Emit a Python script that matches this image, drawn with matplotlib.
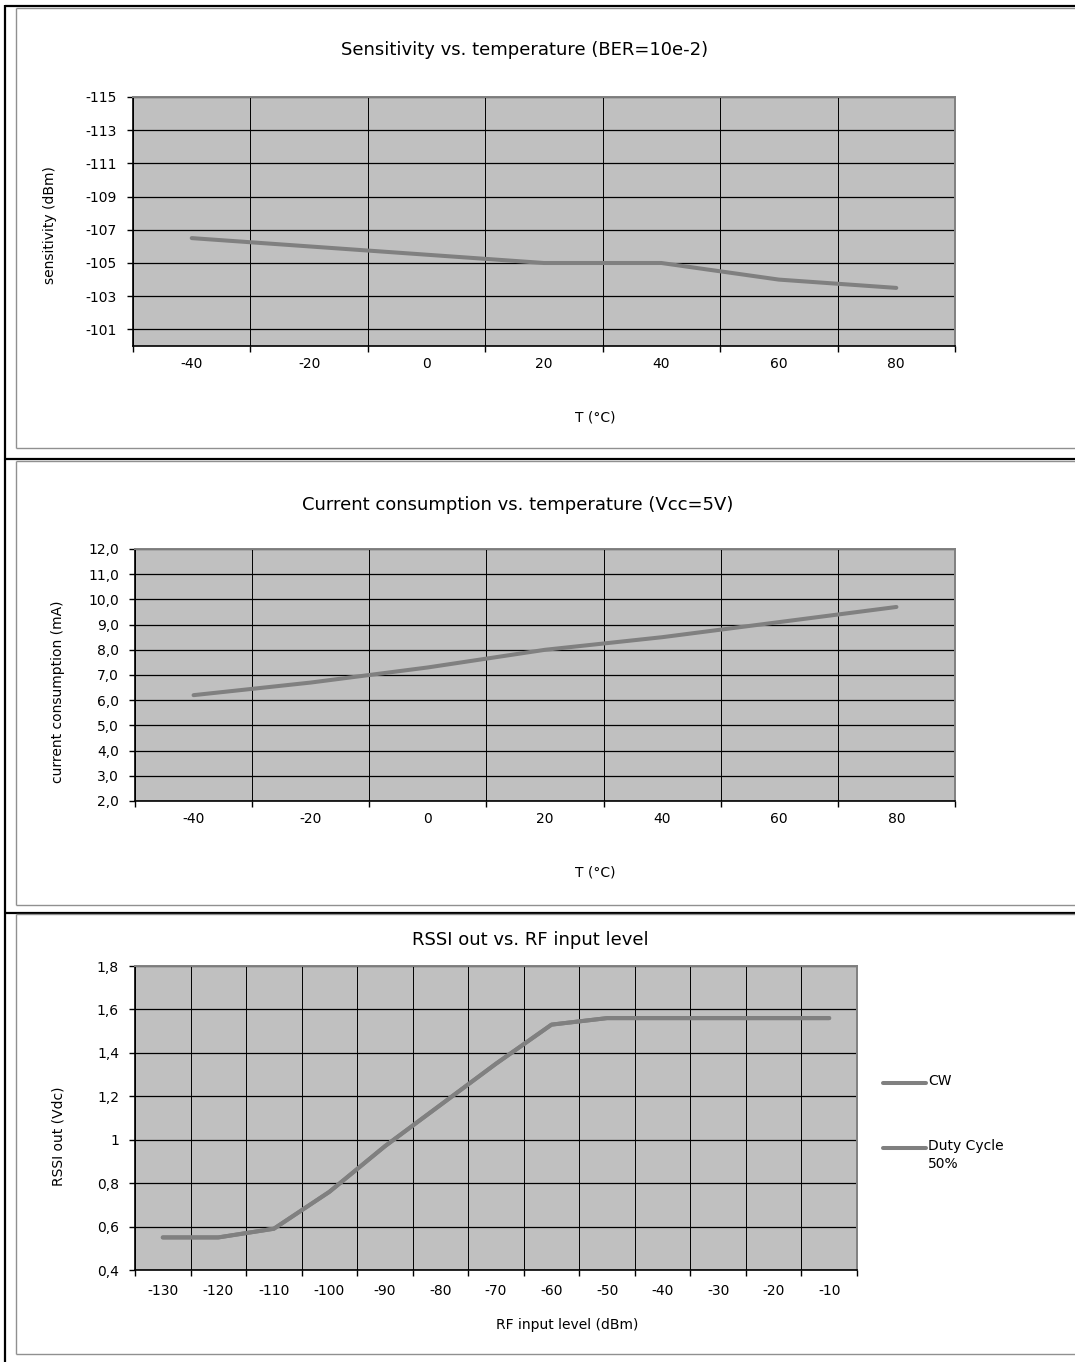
import matplotlib
matplotlib.use("Agg")
import matplotlib.pyplot as plt
from matplotlib.lines import Line2D
import numpy as np

plt.rcParams['font.family'] = ['DejaVu Sans']

W, H = 1075, 1362

# ---------------- data ----------------
temps = ["-40", "-20", "0", "20", "40", "60", "80"]
sensitivity = [-106.5, -106.0, -105.5, -105.0, -105.0, -104.0, -103.5]
sens_yticks = [-115, -113, -111, -109, -107, -105, -103, -101]

current = [6.2, 6.7, 7.3, 8.0, 8.5, 9.1, 9.7]
cur_yticks = [2.0, 3.0, 4.0, 5.0, 6.0, 7.0, 8.0, 9.0, 10.0, 11.0, 12.0]
cur_ylabels = ["2,0", "3,0", "4,0", "5,0", "6,0", "7,0", "8,0", "9,0", "10,0", "11,0", "12,0"]

rf_levels = ["-130", "-120", "-110", "-100", "-90", "-80", "-70", "-60",
             "-50", "-40", "-30", "-20", "-10"]
rssi_cw = [0.55, 0.55, 0.59, 0.76, 0.97, 1.16, 1.35, 1.53, 1.56, 1.56, 1.56, 1.56, 1.56]
rssi_dc50 = [0.55, 0.55, 0.59, 0.76, 0.97, 1.16, 1.35, 1.53, 1.56, 1.56, 1.56, 1.56, 1.56]
rssi_yticks = [0.4, 0.6, 0.8, 1.0, 1.2, 1.4, 1.6, 1.8]
rssi_ylabels = ["0,4", "0,6", "0,8", "1", "1,2", "1,4", "1,6", "1,8"]
series_names = ["CW", "Duty Cycle\n50%"]

titles = ["Sensitivity vs. temperature (BER=10e-2)",
          "Current consumption vs. temperature (Vcc=5V)",
          "RSSI out vs. RF input level"]

# ---------------- style ----------------
BG = "#C0C0C0"
LINE = "#808080"
TICK_FS = 10
LAB_FS = 10
TITLE_FS = 13

fig = plt.figure(figsize=(W / 100, H / 100), dpi=100)
fig.patch.set_facecolor("white")


def rect(x0, y0, x1, y1):
    return [x0 / W, 1 - y1 / H, (x1 - x0) / W, (y1 - y0) / H]


def fx(x):
    return x / W


def fy(y):
    return 1 - y / H


def hline(y, x0, x1, color, lw):
    fig.add_artist(Line2D([fx(x0), fx(x1)], [fy(y), fy(y)], transform=fig.transFigure,
                          color=color, lw=lw, solid_capstyle="butt"))


def vline(x, y0, y1, color, lw):
    fig.add_artist(Line2D([fx(x), fx(x)], [fy(y0), fy(y1)], transform=fig.transFigure,
                          color=color, lw=lw, solid_capstyle="butt"))


def style_axes(ax, cats, xpad):
    n = len(cats)
    ax.set_facecolor(BG)
    ax.set_xlim(-0.5, n - 0.5)
    ax.set_xticks(np.arange(n))
    ax.set_xticklabels(cats, fontsize=TICK_FS)
    ax.set_xticks(np.arange(n + 1) - 0.5, minor=True)
    ax.tick_params(axis="x", which="major", length=0, pad=xpad)
    ax.tick_params(axis="x", which="minor", length=4, width=1.0, color="black", direction="out")
    ax.tick_params(axis="y", which="major", length=4, width=1.0, color="black",
                   labelsize=TICK_FS, pad=7.5)
    ax.grid(True, which="minor", axis="x", color="black", lw=0.7)
    ax.grid(True, which="major", axis="y", color="black", lw=0.9)
    ax.grid(False, which="major", axis="x")
    ax.set_axisbelow(True)
    for s in ("top", "right"):
        ax.spines[s].set_color(LINE)
        ax.spines[s].set_linewidth(1.4)
    for s in ("left", "bottom"):
        ax.spines[s].set_color("black")
        ax.spines[s].set_linewidth(1.2)


# ---------------- panel borders ----------------
hline(5.5, 4.5, W, "black", 1.6)
vline(5.5, 4.5, H, "black", 1.6)
hline(459, 4.5, W, "black", 1.6)
hline(912.5, 4.5, W, "black", 1.6)
for (top, bot) in [(7.5, 447.5), (460.5, 904.5), (913.5, 1354)]:
    hline(top, 15.5, W, "#909090", 1.0)
    hline(bot, 15.5, W, "#909090", 1.0)
    vline(15.5, top, bot, "#909090", 1.0)

# ---------------- panel 1 ----------------
ax1 = fig.add_axes(rect(133, 97, 955, 346))
style_axes(ax1, temps, 8)
ax1.plot(np.arange(len(temps)), sensitivity, color=LINE, lw=2.9, solid_capstyle="round")
ax1.set_ylim(-100, -115)
ax1.set_yticks(sens_yticks)
ax1.set_yticklabels([str(v) for v in sens_yticks])
fig.text(fx(525), fy(50), titles[0], ha="center", va="center", fontsize=TITLE_FS)
fig.text(fx(595), fy(417), "T (°C)", ha="center", va="center", fontsize=LAB_FS)
fig.text(fx(50), fy(225), "sensitivity (dBm)", ha="center", va="center",
         rotation=90, fontsize=LAB_FS)

# ---------------- panel 2 ----------------
ax2 = fig.add_axes(rect(135, 549, 955, 801))
style_axes(ax2, temps, 8)
ax2.plot(np.arange(len(temps)), current, color=LINE, lw=2.9, solid_capstyle="round")
ax2.set_ylim(2.0, 12.0)
ax2.set_yticks(cur_yticks)
ax2.set_yticklabels(cur_ylabels)
fig.text(fx(518), fy(505), titles[1], ha="center", va="center", fontsize=TITLE_FS)
fig.text(fx(595), fy(873), "T (°C)", ha="center", va="center", fontsize=LAB_FS)
fig.text(fx(58), fy(692), "current consumption (mA)", ha="center", va="center",
         rotation=90, fontsize=LAB_FS)

# ---------------- panel 3 ----------------
ax3 = fig.add_axes(rect(135, 966, 857, 1270))
style_axes(ax3, rf_levels, 10)
x3 = np.arange(len(rf_levels))
ax3.plot(x3, rssi_dc50, color=LINE, lw=2.9, solid_capstyle="round")
ax3.plot(x3, rssi_cw, color=LINE, lw=2.9, solid_capstyle="round")
ax3.set_ylim(0.4, 1.8)
ax3.set_yticks(rssi_yticks)
ax3.set_yticklabels(rssi_ylabels)
fig.text(fx(530), fy(940), titles[2], ha="center", va="center", fontsize=TITLE_FS)
fig.text(fx(567), fy(1325), "RF input level (dBm)", ha="center", va="center", fontsize=LAB_FS)
fig.text(fx(58), fy(1136), "RSSI out (Vdc)", ha="center", va="center",
         rotation=90, fontsize=LAB_FS)

# legend (manual, to match the layout)
for name, ly in zip(series_names, [1083, 1148]):
    fig.add_artist(Line2D([fx(883), fx(926)], [fy(ly), fy(ly)], transform=fig.transFigure,
                          color=LINE, lw=2.9, solid_capstyle="round"))
    fig.text(fx(928), fy(ly - 9), name, ha="left", va="top", fontsize=LAB_FS,
             linespacing=1.35)

fig.savefig("out.png", dpi=100, facecolor="white")
